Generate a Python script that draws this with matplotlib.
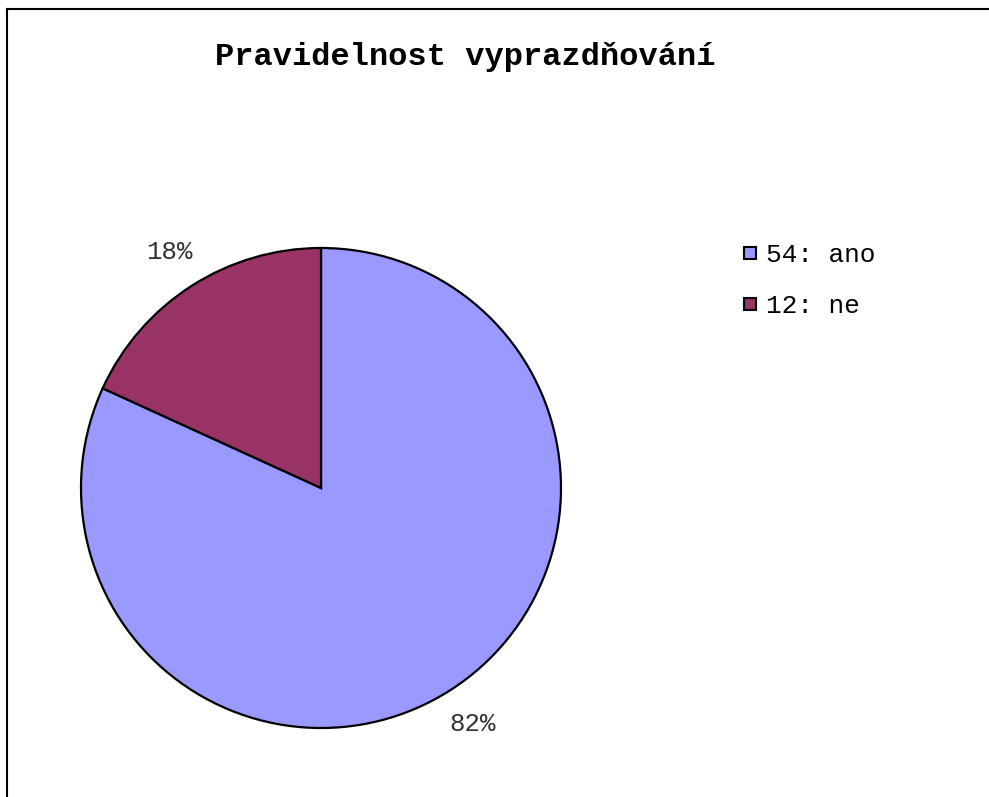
import matplotlib.pyplot as plt
from matplotlib.lines import Line2D

title = "Pravidelnost vyprazdňování"
labels = ["ano", "ne"]
counts = [54, 12]
colors = ["#9999FF", "#993366"]

plt.rcParams["font.family"] = ["Liberation Mono", "DejaVu Sans Mono"]

fig = plt.figure(figsize=(9.89, 7.97), dpi=100)

# frame lines along the top and left edges
fig.add_artist(Line2D([7 / 989, 7 / 989], [0, 1 - 9 / 797], color="black", lw=1.5))
fig.add_artist(Line2D([7 / 989, 1], [1 - 9 / 797, 1 - 9 / 797], color="black", lw=1.5))

fig.text(465 / 989, 1 - 57 / 797, title, ha="center", va="center",
         fontsize=23, fontweight="bold")

ax = fig.add_axes([81 / 989, 69 / 797, 480 / 989, 480 / 797])
wedges, texts, autotexts = ax.pie(
    counts, colors=colors, startangle=90, counterclock=False,
    autopct="%1.0f%%", pctdistance=1.17,
    wedgeprops=dict(edgecolor="black", linewidth=1.6),
    textprops=dict(fontsize=18.5, color="#333333"),
)
ax.set_xlim(-1, 1)
ax.set_ylim(-1, 1)
ax.set_aspect("equal")

handles = [Line2D([], [], marker="s", linestyle="none", markersize=9,
                  markerfacecolor=c, markeredgecolor="black", markeredgewidth=1.5)
           for c in colors]
legend_labels = [f"{n}: {l}" for n, l in zip(counts, labels)]
fig.legend(handles, legend_labels, loc="upper left",
           bbox_to_anchor=(743 / 989, 1 - 243 / 797), frameon=False,
           fontsize=18.8, handlelength=0.5, handletextpad=0.4,
           labelspacing=1.05, borderpad=0, borderaxespad=0)

fig.savefig("out.png", dpi=100)
